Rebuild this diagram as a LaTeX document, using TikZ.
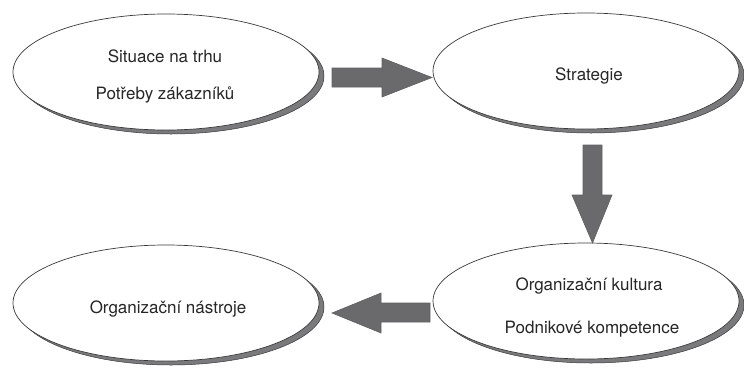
\documentclass[tikz,border=0pt]{standalone}
\usepackage{fontspec}
\setmainfont{TeX Gyre Heros}
\usetikzlibrary{shapes.geometric,shadows}
\definecolor{arrowgray}{HTML}{6A6A6C}
\definecolor{shadowgray}{HTML}{7A7A7C}
\definecolor{edgegray}{HTML}{3A3A3A}
\tikzset{
  oval/.style={ellipse, draw=edgegray, line width=0.7pt, fill=white,
    minimum width=306pt, minimum height=116pt, inner sep=0pt,
    drop shadow={shadow xshift=5pt, shadow yshift=-4pt, fill=shadowgray,
      draw=edgegray, line width=0.5pt, opacity=1}},
  txt/.style={anchor=base, inner sep=0pt, font=\fontsize{17}{20}\selectfont, text=black!85},
  fatarrow/.style={fill=arrowgray, draw=edgegray!80, line width=0.6pt, line join=miter}
}
\begin{document}
\begin{tikzpicture}[x=1pt,y=-1pt]
\useasboundingbox (0,0) rectangle (744,370);
\node[oval] (e1) at (166,72) {};
\node[oval] (e2) at (586,71) {};
\node[oval] (e3) at (586,301) {};
\node[oval] (e4) at (166,303) {};
\node[txt] (t1a) at (165,62) {Situace na trhu};
\node[txt] (t1b) at (165,99) {Potřeby zákazníků};
\node[txt] (t2) at (589,80) {Strategie};
\node[txt] (t3a) at (589,290) {Organizační kultura};
\node[txt] (t3b) at (592,333) {Podnikové kompetence};
\node[txt] (t4) at (168,313) {Organizační nástroje};
% block arrows
\draw[fatarrow] (332,68) -- (382,68) -- (382,58) -- (432,77.5) -- (382,97) -- (382,87) -- (332,87) -- cycle;
\draw[fatarrow] (583,145) -- (602,145) -- (602,195) -- (612,195) -- (592.5,243) -- (572,195) -- (583,195) -- cycle;
\draw[fatarrow] (430,303) -- (381,303) -- (381,293) -- (332,313) -- (381,333) -- (381,322) -- (430,322) -- cycle;
\end{tikzpicture}
\end{document}
